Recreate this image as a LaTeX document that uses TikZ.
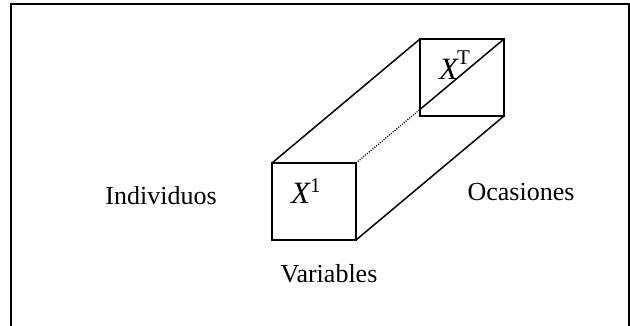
\documentclass[tikz,border=0pt]{standalone}
\usepackage{fontspec}
\setmainfont{Liberation Serif}
\begin{document}
\begin{tikzpicture}[x=1pt,y=-1pt,
  edge/.style={line width=1.5pt,line cap=rect},
  hidden/.style={line width=1.3pt,dash pattern=on 1pt off 1.4pt},
  lbl/.style={inner sep=0pt,anchor=base,font=\fontsize{26}{26}\selectfont}]
\useasboundingbox (0,0) rectangle (630,325);
\fill[white] (0,0) rectangle (630,325);
% frame
\draw[line width=2pt] (11,335) -- (11,4) -- (629,4) -- (629,335);
% corners
\coordinate (fa) at (272,163);
\coordinate (fb) at (356,163);
\coordinate (fc) at (356,240);
\coordinate (fd) at (272,240);
\coordinate (ba) at (420,39);
\coordinate (bb) at (504,39);
\coordinate (bc) at (504,116);
\coordinate (bd) at (420,116);
\coordinate (bm) at (420,109.4);
% boxes
\draw[edge] (fa) -- (fb) -- (fc) -- (fd) -- cycle;
\draw[edge] (ba) -- (bb) -- (bc) -- (bd) -- cycle;
\draw[edge] (fa) -- (ba);
\draw[edge] (fc) -- (bc);
\draw[hidden] (fb) -- (bm);
\draw[edge] (bm) -- (bb);
% labels
\node[lbl] (ind) at (161,204) {Individuos};
\node[lbl] (oca) at (521,200) {Ocasiones};
\node[lbl] (var) at (329,282) {Variables};
\node[inner sep=0pt,anchor=base west] (x1) at (291,203)
  {{\fontsize{31}{31}\selectfont\itshape X}\raisebox{11pt}{\fontsize{21}{21}\selectfont 1}};
\node[inner sep=0pt,anchor=base west] (xt) at (439,79)
  {{\fontsize{31}{31}\selectfont\itshape X}\kern-1pt\raisebox{15pt}{\fontsize{21}{21}\selectfont T}};
\end{tikzpicture}
\end{document}
